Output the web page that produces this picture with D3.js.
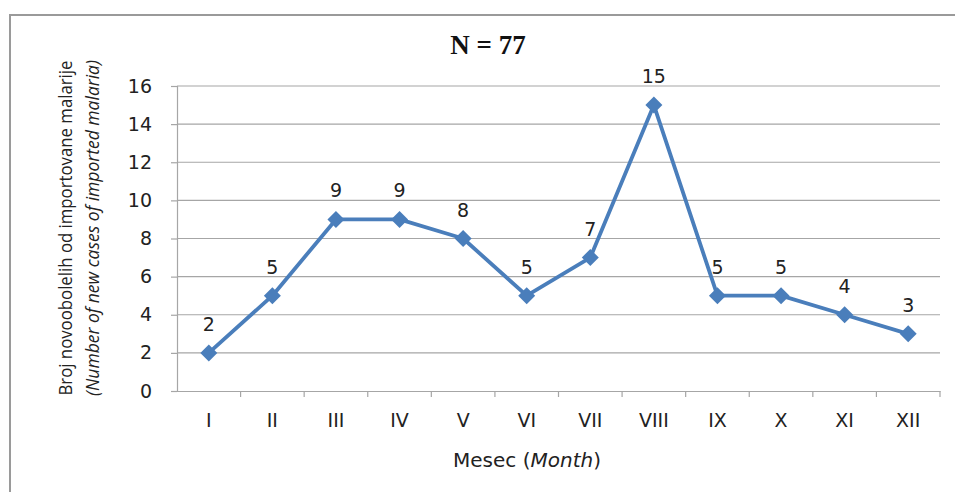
<!DOCTYPE html>
<html><head><meta charset="utf-8">
<script src="https://cdn.jsdelivr.net/npm/d3@7"></script>
<style>body{margin:0;background:#fff}</style>
</head><body>
<svg id="c" width="955" height="492"></svg>
<script>
const months = ["I","II","III","IV","V","VI","VII","VIII","IX","X","XI","XII"];
const cases = [2,5,9,9,8,5,7,15,5,5,4,3];
const yTicks = [0,2,4,6,8,10,12,14,16];

const svg = d3.select("#c");
const font = "'DejaVu Sans', sans-serif";
const tfont = "'Open Sans', 'DejaVu Sans', sans-serif";
const L = 177, R = 940, T = 86, B = 391;

svg.append("rect").attr("x",10).attr("y",15).attr("width",960).attr("height",490)
  .attr("fill","none").attr("stroke","#9a9a9a").attr("stroke-width",2);

const x = d3.scaleBand().domain(months).range([L,R]);
const y = d3.scaleLinear().domain([0,16]).range([B,T]);

// gridlines
svg.append("g").selectAll("line").data(yTicks.filter(d=>d>0)).join("line")
  .attr("x1",L).attr("x2",R).attr("y1",d=>y(d)).attr("y2",d=>y(d))
  .attr("stroke","#a6a6a6").attr("stroke-width",1.2);

// y axis
const ya = svg.append("g").attr("transform",`translate(${L},0)`)
  .call(d3.axisLeft(y).tickValues(yTicks).tickSize(6).tickPadding(19));
ya.select(".domain").attr("stroke","#a6a6a6").attr("stroke-width",1.2);
ya.selectAll(".tick line").attr("stroke","#a6a6a6").attr("stroke-width",1.2);
ya.selectAll("text").attr("font-family",font).attr("font-size",19).attr("fill","#222");

// x axis
const xa = svg.append("g").attr("transform",`translate(0,${B})`)
  .call(d3.axisBottom(x).tickSize(0).tickPadding(23));
xa.select(".domain").attr("stroke","#a6a6a6").attr("stroke-width",1.2);
xa.selectAll("text").attr("font-family",font).attr("font-size",19).attr("fill","#222");
svg.append("g").selectAll("line").data(months).join("line")
  .attr("x1",d=>x(d)+x.bandwidth()).attr("x2",d=>x(d)+x.bandwidth())
  .attr("y1",B).attr("y2",B+6).attr("stroke","#a6a6a6").attr("stroke-width",1.2);

// line
const cx = (d,i)=>x(months[i])+x.bandwidth()/2;
svg.append("path").datum(cases)
  .attr("d", d3.line().x(cx).y(d=>y(d)))
  .attr("fill","none").attr("stroke","#4a7ebb").attr("stroke-width",3.8).attr("stroke-linejoin","round");

svg.append("g").selectAll("path").data(cases).join("path")
  .attr("transform",(d,i)=>`translate(${cx(d,i)},${y(d)})`)
  .attr("d","M0,-8.5L8.5,0L0,8.5L-8.5,0Z").attr("fill","#4a7ebb");

svg.append("g").selectAll("text").data(cases).join("text")
  .attr("x",cx).attr("y",d=>y(d)-22).attr("text-anchor","middle")
  .attr("font-family",font).attr("font-size",19).attr("fill","#222").text(d=>d);

// title
svg.append("text").attr("x",488).attr("y",54).attr("text-anchor","middle")
  .attr("font-family","'Liberation Serif', 'Times New Roman', serif").attr("font-weight","bold")
  .attr("font-size",27).attr("fill","#111").text("N = 77");

// axis titles
const yt = svg.append("text").attr("transform","translate(72,228) rotate(-90)")
  .attr("text-anchor","middle").attr("font-family",tfont).attr("font-size",19).attr("fill","#222");
yt.append("tspan").attr("x",0).attr("y",0).attr("textLength",335).attr("lengthAdjust","spacingAndGlyphs")
  .text("Broj novoobolelih od importovane malarije");
yt.append("tspan").attr("x",0).attr("y",27).attr("font-style","italic")
  .attr("textLength",336).attr("lengthAdjust","spacingAndGlyphs")
  .text("(Number of new cases of imported malaria)");

const xt = svg.append("text").attr("x",527).attr("y",467).attr("text-anchor","middle")
  .attr("font-family",font).attr("font-size",20).attr("fill","#222");
xt.append("tspan").text("Mesec (");
xt.append("tspan").attr("font-style","italic").text("Month");
xt.append("tspan").text(")");
</script>
</body></html>
